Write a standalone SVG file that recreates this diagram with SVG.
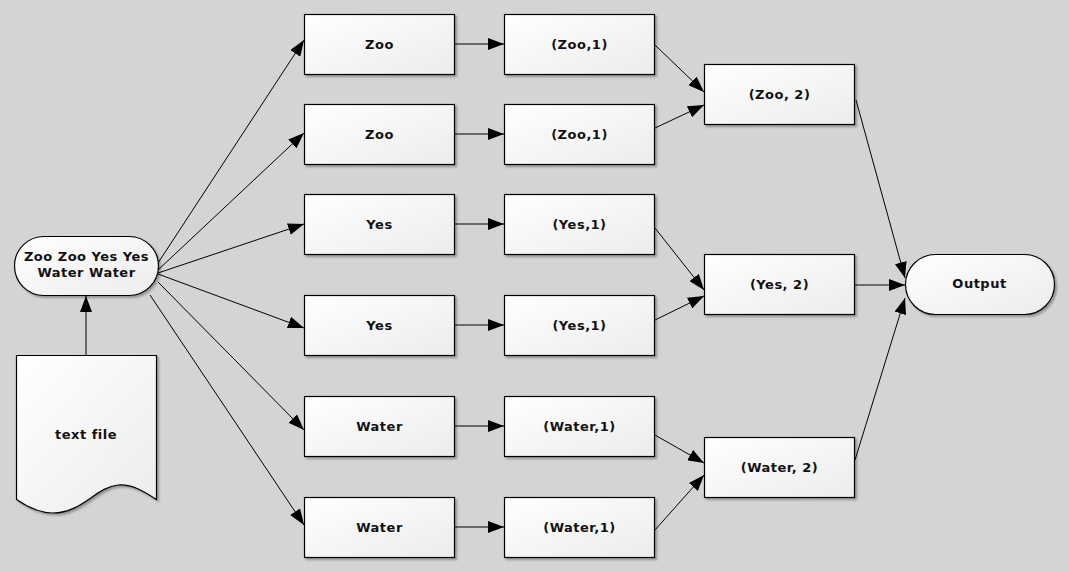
<svg xmlns="http://www.w3.org/2000/svg" width="1069" height="572" viewBox="0 0 1069 572">
<style>
.n{fill:url(#g);stroke:#000;stroke-width:1.2;filter:url(#sh)}
.t{font-family:"DejaVu Sans",sans-serif;font-weight:bold;font-size:13px;letter-spacing:0.5px;fill:#111;text-anchor:middle}
.c line{stroke:#000;stroke-width:1;marker-end:url(#a)}
</style>
<defs>
<linearGradient id="g" x1="0" y1="0" x2="1" y2="1">
<stop offset="0" stop-color="#ffffff"/>
<stop offset="1" stop-color="#ececec"/>
</linearGradient>
<filter id="sh" x="-10%" y="-10%" width="130%" height="130%">
<feDropShadow dx="2" dy="2" stdDeviation="1.2" flood-color="#000" flood-opacity="0.3"/>
</filter>
<marker id="a" viewBox="0 0 16 12" refX="16" refY="6" markerWidth="16" markerHeight="12" markerUnits="userSpaceOnUse" orient="auto">
<path d="M0,0 L16,6 L0,12 Z" fill="#000"/>
</marker>
</defs>
<rect width="1069" height="572" fill="#d4d4d4"/>
<g class="c" id="connectors">
<line x1="86" y1="355" x2="86" y2="296"/>
<line x1="158" y1="263" x2="304" y2="40"/>
<line x1="158" y1="270" x2="304" y2="133"/>
<line x1="158" y1="273" x2="304" y2="224"/>
<line x1="158" y1="274" x2="304" y2="328"/>
<line x1="158" y1="282" x2="304" y2="430"/>
<line x1="150" y1="295" x2="304" y2="525"/>
<line x1="454" y1="44" x2="504" y2="44"/>
<line x1="454" y1="134" x2="504" y2="134"/>
<line x1="454" y1="224" x2="504" y2="224"/>
<line x1="454" y1="325" x2="504" y2="325"/>
<line x1="454" y1="426" x2="504" y2="426"/>
<line x1="454" y1="527" x2="504" y2="527"/>
<line x1="655" y1="45" x2="704" y2="92"/>
<line x1="655" y1="128" x2="704" y2="105"/>
<line x1="655" y1="228" x2="704" y2="290"/>
<line x1="655" y1="320" x2="704" y2="296"/>
<line x1="655" y1="435" x2="704" y2="463"/>
<line x1="655" y1="530" x2="704" y2="475"/>
<line x1="856" y1="100" x2="905" y2="278"/>
<line x1="855" y1="285" x2="905" y2="285"/>
<line x1="855" y1="460" x2="905" y2="298"/>
</g>
<g id="input"><rect class="n" x="14.5" y="236.5" width="144" height="59" rx="29.5"/><text class="t" x="86.5" y="261">Zoo Zoo Yes Yes</text><text class="t" x="86.5" y="277">Water Water</text></g>
<g id="textfile"><path class="n" d="M16.5,355.5 H156.5 V499.5 C145,492 133,484 118,485 C96,487 82,513 53,513 C38,513 26,506 16.5,499.5 Z"/><text class="t" x="86" y="439">text file</text></g>
<g id="zoo1"><rect class="n" x="304.5" y="14.5" width="150" height="60"/><text class="t" x="379.5" y="49">Zoo</text></g>
<g id="zoo2"><rect class="n" x="304.5" y="104.5" width="150" height="60"/><text class="t" x="379.5" y="139">Zoo</text></g>
<g id="yes1"><rect class="n" x="304.5" y="194.5" width="150" height="60"/><text class="t" x="379.5" y="229">Yes</text></g>
<g id="yes2"><rect class="n" x="304.5" y="295.5" width="150" height="60"/><text class="t" x="379.5" y="330">Yes</text></g>
<g id="water1"><rect class="n" x="304.5" y="396.5" width="150" height="60"/><text class="t" x="379.5" y="431">Water</text></g>
<g id="water2"><rect class="n" x="304.5" y="497.5" width="150" height="60"/><text class="t" x="379.5" y="532">Water</text></g>
<g id="zoo1c"><rect class="n" x="504.5" y="14.5" width="150" height="60"/><text class="t" x="579.5" y="49">(Zoo,1)</text></g>
<g id="zoo2c"><rect class="n" x="504.5" y="104.5" width="150" height="60"/><text class="t" x="579.5" y="139">(Zoo,1)</text></g>
<g id="yes1c"><rect class="n" x="504.5" y="194.5" width="150" height="60"/><text class="t" x="579.5" y="229">(Yes,1)</text></g>
<g id="yes2c"><rect class="n" x="504.5" y="295.5" width="150" height="60"/><text class="t" x="579.5" y="330">(Yes,1)</text></g>
<g id="water1c"><rect class="n" x="504.5" y="396.5" width="150" height="60"/><text class="t" x="579.5" y="431">(Water,1)</text></g>
<g id="water2c"><rect class="n" x="504.5" y="497.5" width="150" height="60"/><text class="t" x="579.5" y="532">(Water,1)</text></g>
<g id="zoosum"><rect class="n" x="704.5" y="64.5" width="150" height="60"/><text class="t" x="779.5" y="99">(Zoo, 2)</text></g>
<g id="yessum"><rect class="n" x="704.5" y="254.5" width="150" height="60"/><text class="t" x="779.5" y="289">(Yes, 2)</text></g>
<g id="watersum"><rect class="n" x="704.5" y="437.5" width="150" height="60"/><text class="t" x="779.5" y="472">(Water, 2)</text></g>
<g id="output"><rect class="n" x="905.5" y="254.5" width="149" height="60" rx="30"/><text class="t" x="979.5" y="288">Output</text></g>
</svg>
